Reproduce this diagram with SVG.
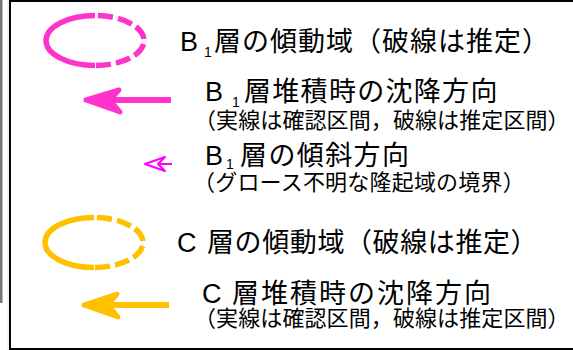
<svg xmlns="http://www.w3.org/2000/svg" width="573" height="350" viewBox="0 0 573 350">
<style>
.t{font-family:"Liberation Sans","Noto Sans CJK JP",sans-serif;fill:#000}
.big{font-size:27px}
.sm{font-size:22px}
.sub{font-size:14px}
.pk{stroke:#FF33CC}
.og{stroke:#FFC000}
.ell{fill:none;stroke-width:5.5}
.dash{stroke-dasharray:15 5;stroke-dashoffset:17}
</style>
<rect x="0" y="0" width="573" height="350" fill="#fff"/>
<rect x="0" y="0" width="2.5" height="303" fill="#777"/>
<line x1="8" y1="0" x2="8" y2="350" stroke="#e4e4e4" stroke-width="1"/>
<rect id="frame" x="10" y="1" width="620" height="348" fill="none" stroke="#000" stroke-width="2"/>

<g id="legend-b1-tilt">
<path class="ell pk" d="M95,15.5 A49,25 0 0 0 95,65.5"/>
<path class="ell pk dash" d="M95,15.5 A49,25 0 0 1 95,65.5"/>
<text class="t big" x="180" y="51">B<tspan class="sub" x="204" y="57">1</tspan><tspan x="214" y="51" letter-spacing="1">層の傾動域（破線は推定）</tspan></text>
</g>

<g id="legend-c-tilt">
<path class="ell og" d="M94,217.5 A49,25 0 0 0 94,267.5"/>
<path class="ell og dash" d="M94,217.5 A49,25 0 0 1 94,267.5"/>
<text class="t big" x="177" y="252">C<tspan x="207" letter-spacing="0.6">層の傾動域（破線は推定）</tspan></text>
</g>

<g id="connectors">
<g id="arrow-b1-subsidence">
<line x1="171" y1="100" x2="108" y2="100" stroke="#FF33CC" stroke-width="6"/>
<polygon points="86,100 119,90 110,100 120,112" fill="#FF33CC" stroke="#FF33CC" stroke-width="5" stroke-linejoin="round"/>
</g>
<g id="arrow-b1-dip">
<polyline points="158,164 172,164" fill="none" stroke="#FF00FF" stroke-width="2"/>
<polygon points="145,164 165,157 158,164 165,171" fill="#fff" stroke="#FF00FF" stroke-width="2" stroke-linejoin="round"/>
</g>
<g id="arrow-c-subsidence">
<line x1="169" y1="305" x2="106" y2="305" stroke="#FFC000" stroke-width="6"/>
<polygon points="84,305 117,294 108,305 118,317" fill="#FFC000" stroke="#FFC000" stroke-width="5" stroke-linejoin="round"/>
</g>
</g>

<g id="legend-b1-subsidence">
<text class="t big" x="205" y="101">B<tspan class="sub" x="232" y="107">1</tspan><tspan x="244" y="101" letter-spacing="1.3">層堆積時の沈降方向</tspan></text>
<text class="t sm" x="194" y="128" letter-spacing="0.1">（実線は確認区間，破線は推定区間）</text>
</g>

<g id="legend-b1-dip">
<text class="t big" x="205" y="165">B<tspan class="sub" x="226" y="169">1</tspan><tspan x="240" y="165" letter-spacing="1.4">層の傾斜方向</tspan></text>
<text class="t sm" x="193" y="190" letter-spacing="0.2">（グロース不明な隆起域の境界）</text>
</g>

<g id="legend-c-subsidence">
<text class="t big" x="202" y="303">C<tspan x="232" letter-spacing="2">層堆積時の沈降方向</tspan></text>
<text class="t sm" x="194" y="326" letter-spacing="0.1">（実線は確認区間，破線は推定区間）</text>
</g>
</svg>
